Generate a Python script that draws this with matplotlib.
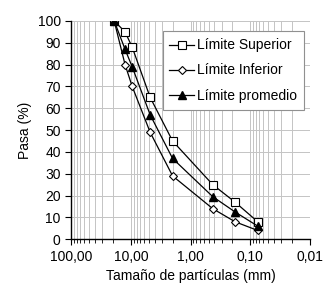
import numpy as np
import matplotlib
matplotlib.use("Agg")
import matplotlib.pyplot as plt
from matplotlib.ticker import FixedLocator, LogLocator, NullFormatter

plt.rcParams['font.family'] = ['Liberation Sans', 'DejaVu Sans']

# Sieve sizes (mm) and passing percentages
sizes = [19.0, 12.5, 9.5, 4.75, 2.0, 0.425, 0.18, 0.075]
superior = [100, 95, 88, 65, 45, 25, 17, 8]
inferior = [100, 80, 70, 49, 29, 14, 8, 4]
promedio = [100, 87, 79, 57, 37, 19.5, 12.5, 6]

x_ticks = [100, 10, 1, 0.1, 0.01]
x_labels = ['100,00', '10,00', '1,00', '0,10', '0,01']

fig = plt.figure(figsize=(3.34, 2.91), dpi=100)
ax = fig.add_axes([0.213, 0.178, 0.715, 0.75])

ax.plot(sizes, superior, color='black', lw=0.9, marker='s', ms=6,
        mfc='white', mec='black', mew=0.8, label='Límite Superior')
ax.plot(sizes, inferior, color='black', lw=0.9, marker='D', ms=4.5,
        mfc='white', mec='black', mew=0.8, label='Límite Inferior')
ax.plot(sizes, promedio, color='black', lw=0.9, marker='^', ms=6,
        mfc='black', mec='black', label='Límite promedio')

ax.set_xscale('log')
ax.set_xlim(100, 0.01)
ax.set_ylim(0, 100)
ax.xaxis.set_major_locator(FixedLocator(x_ticks))
ax.set_xticklabels(x_labels)
ax.xaxis.set_minor_locator(LogLocator(base=10, subs=np.arange(2, 10)))
ax.xaxis.set_minor_formatter(NullFormatter())
ax.set_yticks(np.arange(0, 101, 10))

ax.grid(True, which='both', axis='x', color='#c4c4c4', lw=0.7)
ax.grid(True, which='major', axis='y', color='#c4c4c4', lw=0.7)
ax.set_axisbelow(True)

for s in ['top', 'right']:
    ax.spines[s].set_visible(False)
ax.spines['left'].set_linewidth(1.0)
ax.spines['bottom'].set_linewidth(1.0)

ax.tick_params(axis='both', which='major', labelsize=10, direction='out',
               length=4, width=0.8)
ax.tick_params(axis='x', which='minor', direction='out', length=3, width=0.6)

ax.set_xlabel('Tamaño de partículas (mm)', fontsize=10)
ax.set_ylabel('Pasa (%)', fontsize=10)

leg = ax.legend(loc='upper right', fontsize=10, frameon=True, fancybox=False,
                edgecolor='#909090', framealpha=1, borderpad=0.5,
                handlelength=1.8, handletextpad=0.2, labelspacing=0.8,
                borderaxespad=0, bbox_to_anchor=(0.976, 0.952))
leg.get_frame().set_linewidth(0.8)

fig.savefig('out.png', dpi=100)
